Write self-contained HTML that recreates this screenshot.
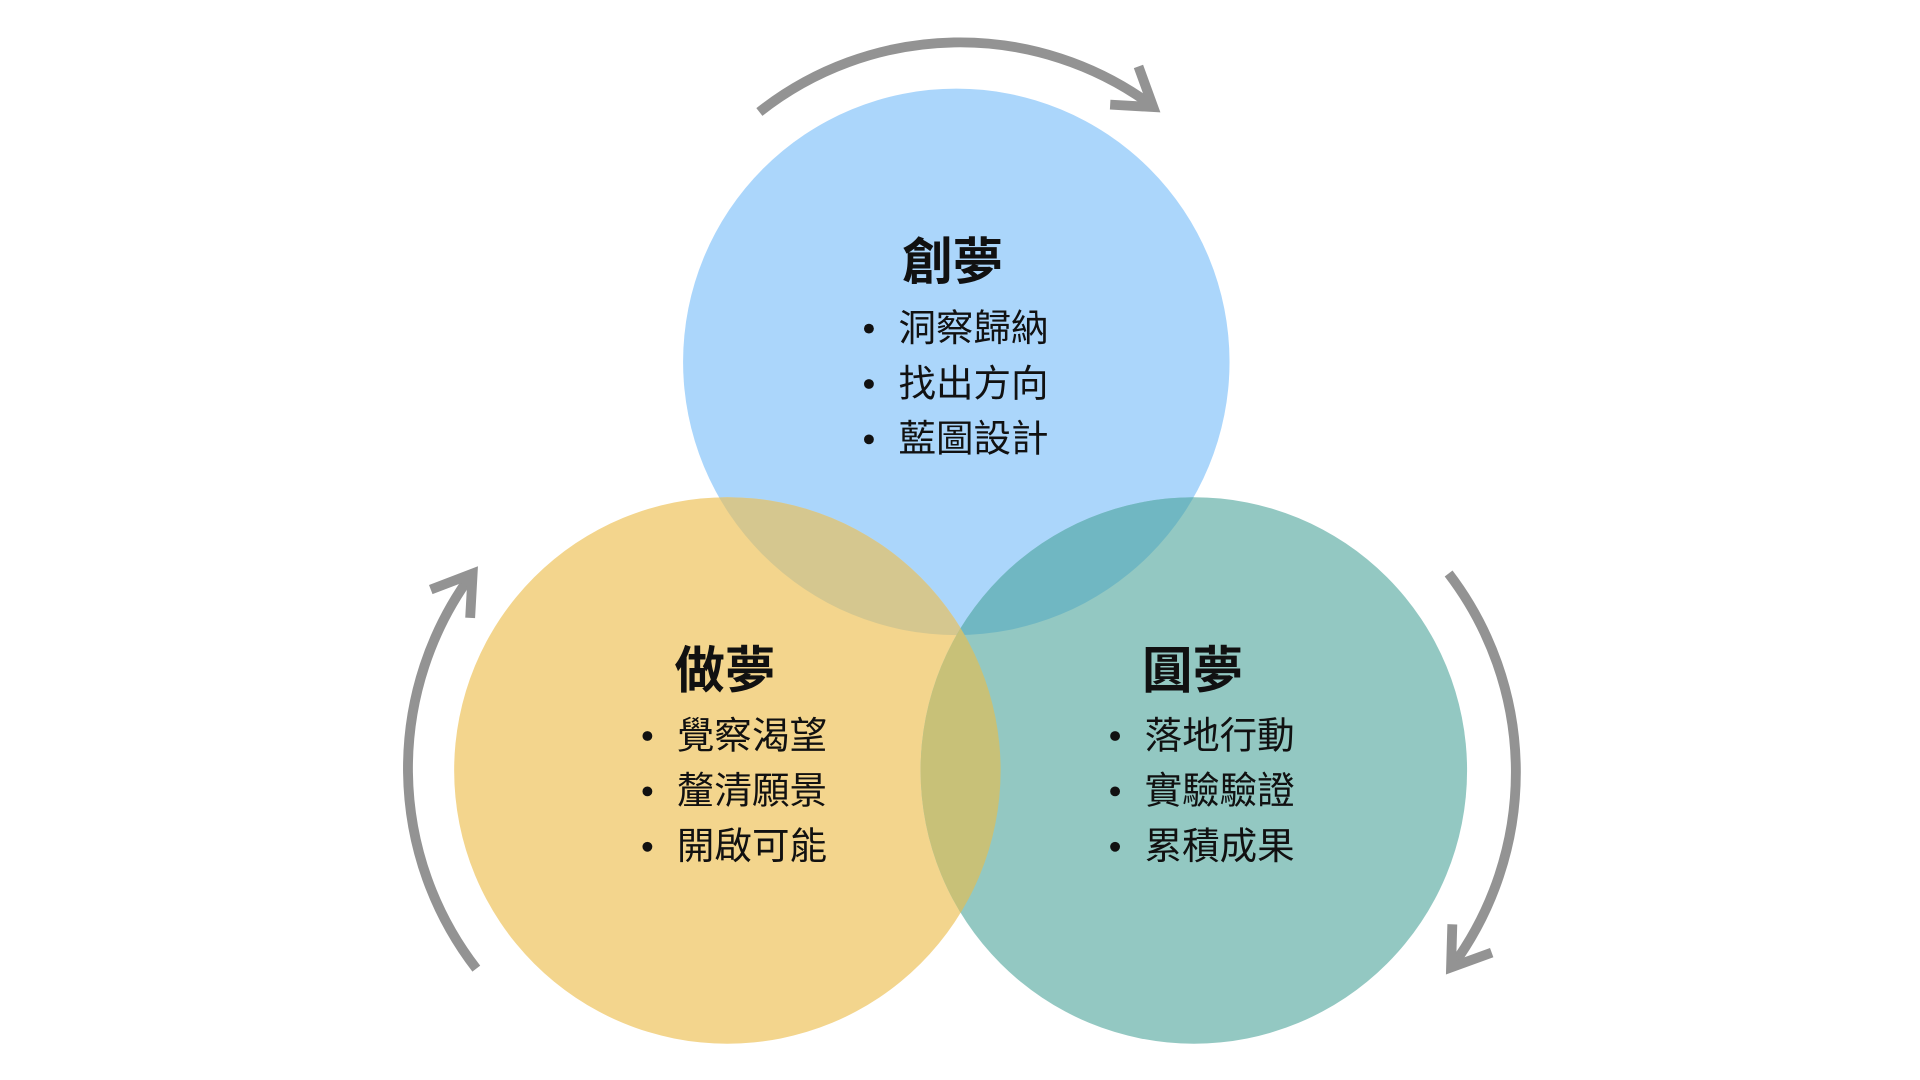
<!DOCTYPE html>
<html><head><meta charset="utf-8"><style>
html,body{margin:0;padding:0;background:#fff;width:1920px;height:1080px;overflow:hidden}
svg{display:block}
text{font-family:"Liberation Sans","Noto Sans CJK TC",sans-serif;fill:#111}
.t{font-weight:bold;font-size:41px}
.i{font-size:30.5px}
</style></head><body>
<svg width="1920" height="1080" viewBox="0 0 1560 877.5" xmlns="http://www.w3.org/2000/svg">
<defs>
<clipPath id="cb"><circle cx="780" cy="295" r="222"/></clipPath>
<clipPath id="cy"><circle cx="594" cy="627" r="222"/></clipPath>
</defs>
<g transform="translate(-3,-1)">
<circle cx="780" cy="295" r="222" fill="#abd6fb"/>
<circle cx="594" cy="627" r="222" fill="#f3d58d"/>
<circle cx="973" cy="627" r="222" fill="#93c8c2"/>
<g clip-path="url(#cb)"><circle cx="594" cy="627" r="222" fill="#d5c78f"/><circle cx="973" cy="627" r="222" fill="#70b7c2"/></g>
<g clip-path="url(#cy)"><circle cx="973" cy="627" r="222" fill="#c8c178"/></g>
<g fill="none" stroke="#939393" stroke-width="8" stroke-linecap="butt">
<path d="M620,92 A263 263 0 0 1 938,86"/>
<path d="M928,55 L940,88 L905,86"/>
<path d="M390,788 A266 266 0 0 1 386,468"/>
<path d="M353,480 L387,467 L385,503"/>
<path d="M1180,467 A266 266 0 0 1 1183,786"/>
<path d="M1215,775 L1182,787 L1183,752"/>
</g>
<text class="t" x="777" y="228" text-anchor="middle">創夢</text>
<circle cx="709" cy="268" r="4" fill="#111"/><text class="i" x="733" y="278">洞察歸納</text>
<circle cx="709" cy="313" r="4" fill="#111"/><text class="i" x="733" y="323">找出方向</text>
<circle cx="709" cy="358" r="4" fill="#111"/><text class="i" x="733" y="368">藍圖設計</text>
<text class="t" x="592" y="560" text-anchor="middle">做夢</text>
<circle cx="529" cy="599" r="4" fill="#111"/><text class="i" x="553" y="609">覺察渴望</text>
<circle cx="529" cy="644" r="4" fill="#111"/><text class="i" x="553" y="654">釐清願景</text>
<circle cx="529" cy="689" r="4" fill="#111"/><text class="i" x="553" y="699">開啟可能</text>
<text class="t" x="972" y="560" text-anchor="middle">圓夢</text>
<circle cx="909" cy="599" r="4" fill="#111"/><text class="i" x="933" y="609">落地行動</text>
<circle cx="909" cy="644" r="4" fill="#111"/><text class="i" x="933" y="654">實驗驗證</text>
<circle cx="909" cy="689" r="4" fill="#111"/><text class="i" x="933" y="699">累積成果</text>
</g>
</svg>
</body></html>
